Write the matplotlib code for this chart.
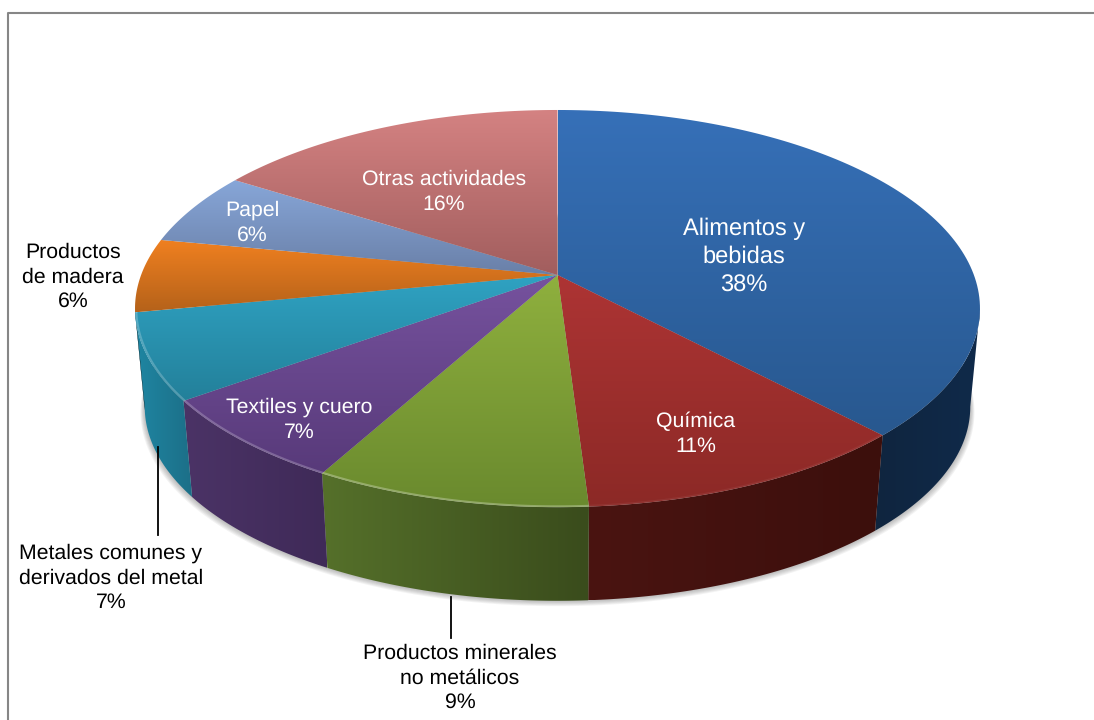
import numpy as np
import matplotlib
matplotlib.use('Agg')
import matplotlib.pyplot as plt
from matplotlib.colors import to_rgb
from matplotlib.patches import Polygon

plt.rcParams['font.family'] = ['Liberation Sans', 'DejaVu Sans']
plt.rcParams['text.hinting'] = 'no_hinting'

# --- Data ---
labels = ['Alimentos y\nbebidas', 'Química', 'Productos minerales\nno metálicos',
          'Textiles y cuero', 'Metales comunes y\nderivados del metal',
          'Productos\nde madera', 'Papel', 'Otras actividades']
values = [38, 11, 9, 7, 7, 6, 6, 16]

# --- Colours of each slice (top of gradient, bottom of gradient, side left, side right) ---
top_hi = ['#3670b8', '#ad3434', '#8fb03e', '#76529e', '#2fa2c2', '#f08020', '#87a6d8', '#d48282']
top_lo = ['#28588f', '#8c2926', '#6a8a2e', '#583a7a', '#23809a', '#b5621a', '#6a80a8', '#a25e5e']
side_l = ['#10253f', '#4a1411', '#55702a', '#4b3366', '#1f86a2', '#000000', '#000000', '#000000']
side_r = ['#0f2a4a', '#3c0f0c', '#3a4c1c', '#3f2a58', '#1c6f88', '#000000', '#000000', '#000000']
bevel = [0.0, 0.05, 0.28, 0.22, 0.22, 0, 0, 0]

# --- Geometry of the perspective pie (pixels) ---
CX, CY = 557.5, 275
W, B = 416.4, 192.9
PERSP = 0.169
DROP = 99
SHRINK = 0.977
VIS_LO, VIS_HI = 99.7, 260.3  # rim is only visible between these angles


def project(theta, r=1.0, lower=False):
    # theta is clockwise from 12 o'clock, in degrees
    t = np.radians(theta)
    x, y = r * np.sin(t), r * np.cos(t)
    d = 1 + PERSP * y
    px, py = W * x / d, -B * y / d
    if lower:
        return CX + SHRINK * px, CY + DROP + SHRINK * py
    return CX + px, CY + py


def gradient(ax, poly, colors, horizontal=False):
    # paint a gradient clipped to a polygon
    rgb = np.array([to_rgb(c) for c in colors])
    pos = np.linspace(0, 1, 64)
    stops = np.linspace(0, 1, len(colors))
    img = np.stack([np.interp(pos, stops, rgb[:, i]) for i in range(3)], axis=-1)
    img = img[np.newaxis, :, :] if horizontal else img[:, np.newaxis, :]
    x0, x1 = poly[:, 0].min(), poly[:, 0].max()
    y0, y1 = poly[:, 1].min(), poly[:, 1].max()
    im = ax.imshow(img, extent=(x0, x1, y1, y0), aspect='auto', interpolation='bilinear', zorder=3)
    patch = Polygon(poly, closed=True, transform=ax.transData, fc='none', ec='none')
    ax.add_patch(patch)
    im.set_clip_path(patch)


fig = plt.figure(figsize=(10.94, 7.2), dpi=100)
ax = fig.add_axes([0, 0, 1, 1])
ax.axis('off')

edges = np.concatenate([[0], np.cumsum(values)]) / np.sum(values) * 360

# soft shadow under the rim
full = np.linspace(0, 360, 361)
for k in range(1, 7):
    sx, sy = project(full, lower=True)
    sx = CX + (sx - CX) * (1 + 0.0017 * k)
    sy = sy + 0.9 * k
    ax.fill(sx, sy, color='#555555', alpha=0.07, lw=0, zorder=2)

# sides, only the part of the rim facing the viewer
for i in range(len(values)):
    a0, a1 = max(edges[i], VIS_LO), min(edges[i + 1], VIS_HI)
    if a1 <= a0:
        continue
    t = np.linspace(a0, a1, 80)
    ux, uy = project(t)
    lx, ly = project(t, lower=True)
    poly = np.column_stack([np.r_[ux, lx[::-1]], np.r_[uy, ly[::-1]]])
    gradient(ax, poly, [side_l[i], side_r[i]], horizontal=True)

# top faces
for i in range(len(values)):
    t = np.linspace(edges[i], edges[i + 1], 120)
    ux, uy = project(t)
    poly = np.column_stack([np.r_[CX, ux], np.r_[CY, uy]])
    gradient(ax, poly, [top_hi[i], top_lo[i]])

# thin lit bevel along the front of the rim
for i in range(len(values)):
    a0, a1 = max(edges[i], VIS_LO), min(edges[i + 1], VIS_HI)
    if a1 <= a0 or bevel[i] == 0:
        continue
    t = np.linspace(a0, a1, 80)
    ux, uy = project(t, r=0.997)
    ax.plot(ux, uy, color='white', alpha=bevel[i], lw=1.4, zorder=4, solid_capstyle='butt')

# leader lines
ax.plot([158, 158], [447, 535], color='black', lw=1.3, zorder=5)
ax.plot([451, 451], [597, 638], color='black', lw=1.3, zorder=5)

# --- Labels ---
label_x = [744, 695.5, 460, 299, 111, 73, 252, 444]
label_y = [257, 434, 678, 420, 578, 277, 223, 192]
label_c = ['white', 'white', 'black', 'white', 'black', 'black', 'white', 'white']
label_s = [17, 15.3, 15.3, 15.3, 15.3, 15.3, 15.3, 15.3]
for i in range(len(values)):
    ax.text(label_x[i], label_y[i], '%s\n%d%%' % (labels[i], values[i]), color=label_c[i],
            fontsize=label_s[i], ha='center', va='center', linespacing=1.33, zorder=6)

# chart frame, only top and left fall inside the crop
ax.plot([8, 8, 1094], [720, 13, 13], color='#868686', lw=1.5, zorder=7)

ax.set_xlim(0, 1094)
ax.set_ylim(720, 0)

fig.savefig('out.png', dpi=100)
